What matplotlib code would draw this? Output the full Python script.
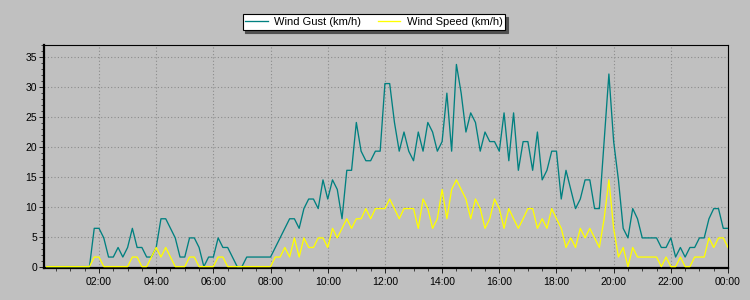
import numpy as np
import matplotlib.pyplot as plt
from matplotlib.ticker import MultipleLocator

# 10-minute samples, 00:10 .. 24:00
minutes = np.arange(10, 1441, 10)
hours = minutes / 60

gust = [0, 0, 0, 0, 0, 0, 0, 0, 0, 0,
        6.4, 6.4, 4.8, 1.6, 1.6, 3.2, 1.6, 3.2, 6.4, 3.2,
        3.2, 1.6, 1.6, 3.2, 8.0, 8.0, 6.4, 4.8, 1.6, 1.6,
        4.8, 4.8, 3.2, 0, 1.6, 1.6, 4.8, 3.2, 3.2, 1.6,
        0, 0, 1.6, 1.6, 1.6, 1.6, 1.6, 1.6, 3.2, 4.8,
        6.4, 8.0, 8.0, 6.4, 9.7, 11.3, 11.3, 9.7, 14.5, 11.3,
        14.5, 12.9, 8.0, 16.1, 16.1, 24.1, 19.3, 17.7, 17.7, 19.3,
        19.3, 30.6, 30.6, 24.1, 19.3, 22.5, 19.3, 17.7, 22.5, 19.3,
        24.1, 22.5, 19.3, 20.9, 29.0, 19.3, 33.8, 29.0, 22.5, 25.7,
        24.1, 19.3, 22.5, 20.9, 20.9, 19.3, 25.7, 17.7, 25.7, 16.1,
        20.9, 20.9, 16.1, 22.5, 14.5, 16.1, 19.3, 19.3, 11.3, 16.1,
        12.9, 9.7, 11.3, 14.5, 14.5, 9.7, 9.7, 20.9, 32.2, 20.9,
        14.5, 6.4, 4.8, 9.7, 8.0, 4.8, 4.8, 4.8, 4.8, 3.2,
        3.2, 4.8, 1.6, 3.2, 1.6, 3.2, 3.2, 4.8, 4.8, 8.0,
        9.7, 9.7, 6.4, 6.4]

speed = [0, 0, 0, 0, 0, 0, 0, 0, 0, 0,
         1.6, 1.6, 0, 0, 0, 0, 0, 0, 1.6, 1.6,
         0, 0, 1.6, 3.2, 1.6, 3.2, 1.6, 0, 0, 0,
         1.6, 1.6, 0, 0, 0, 0, 1.6, 1.6, 0, 0,
         0, 0, 0, 0, 0, 0, 0, 0, 1.6, 1.6,
         3.2, 1.6, 4.8, 1.6, 4.8, 3.2, 3.2, 4.8, 4.8, 3.2,
         6.4, 4.8, 6.4, 8.0, 6.4, 8.0, 8.0, 9.7, 8.0, 9.7,
         9.7, 9.7, 11.3, 9.7, 8.0, 9.7, 9.7, 9.7, 6.4, 11.3,
         9.7, 6.4, 8.0, 12.9, 8.0, 12.9, 14.5, 12.9, 11.3, 8.0,
         11.3, 9.7, 6.4, 8.0, 11.3, 9.7, 6.4, 9.7, 8.0, 6.4,
         8.0, 9.7, 9.7, 6.4, 8.0, 6.4, 9.7, 8.0, 6.4, 3.2,
         4.8, 3.2, 6.4, 4.8, 6.4, 4.8, 3.2, 8.0, 14.5, 6.4,
         1.6, 3.2, 0, 3.2, 1.6, 1.6, 1.6, 1.6, 1.6, 0,
         1.6, 0, 0, 1.6, 0, 0, 1.6, 1.6, 1.6, 4.8,
         3.2, 4.8, 4.8, 3.2]

tick_hours = [2, 4, 6, 8, 10, 12, 14, 16, 18, 20, 22, 24]
tick_labels = ['02:00', '04:00', '06:00', '08:00', '10:00', '12:00',
               '14:00', '16:00', '18:00', '20:00', '22:00', '00:00']

plt.rcParams['font.family'] = ['Liberation Sans', 'DejaVu Sans']

bg = '#c0c0c0'
fig = plt.figure(figsize=(7.5, 3), dpi=100, facecolor=bg)
ax = fig.add_axes([0.0587, 0.1083, 0.912, 0.7427])
ax.set_facecolor(bg)
ax.set_axisbelow(True)

ax.plot(hours, gust, color='#008080', lw=0.95, label='Wind Gust (km/h)', zorder=3)
ax.plot(hours, speed, color='#ffff00', lw=0.95, label='Wind Speed (km/h)', zorder=4)

ax.set_xlim(0.077, 24)
ax.set_ylim(-0.15, 37.1)
ax.set_xticks(tick_hours)
ax.set_xticklabels(tick_labels)
ax.set_yticks(range(0, 36, 5))
ax.xaxis.set_minor_locator(MultipleLocator(0.5))
ax.yaxis.set_minor_locator(MultipleLocator(1))

ax.grid(True, which='major', color='#8c8c8c', linestyle=(0, (1, 2)), lw=0.8)

ax.tick_params(which='major', direction='out', length=3.5, width=0.7,
               color='#202020', labelsize=7.5, labelcolor='black')
ax.tick_params(which='minor', direction='out', length=2.2, width=0.7, color='#404040')
ax.tick_params(axis='x', which='major', pad=3)
ax.tick_params(axis='y', which='major', pad=1.5)

for side in ['left', 'bottom']:
    ax.spines[side].set_linewidth(1.6)
    ax.spines[side].set_color('black')
for side in ['top', 'right']:
    ax.spines[side].set_linewidth(0.8)
    ax.spines[side].set_color('black')

leg = fig.legend(loc='upper center', bbox_to_anchor=(0.4987, 0.952), ncol=2,
                 frameon=True, fancybox=False, shadow={'color': '#505050', 'alpha': 1},
                 edgecolor='black', facecolor='white', framealpha=1, fontsize=8,
                 handlelength=2.0, columnspacing=1.5, borderpad=0.25,
                 handletextpad=0.6, borderaxespad=0)
leg.get_frame().set_linewidth(0.8)

fig.savefig('out.png', dpi=100, facecolor=bg)
